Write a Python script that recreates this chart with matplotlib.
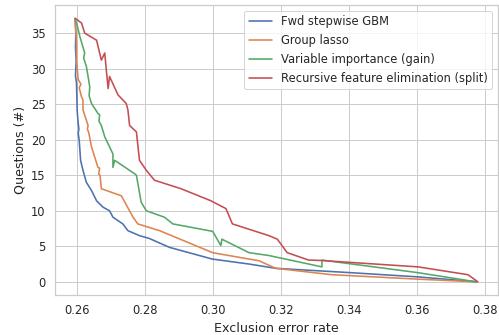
import matplotlib
matplotlib.use("Agg")
import matplotlib.pyplot as plt
import seaborn as sns

# exclusion error rate vs. number of questions kept, per selection method
fwd_x = [0.2595, 0.2597, 0.2596, 0.2598, 0.2596, 0.2599, 0.2600, 0.2601, 0.2604, 0.2606,
         0.2604, 0.2607, 0.2611, 0.2618, 0.2628, 0.2643, 0.2658, 0.2677, 0.2696, 0.2706,
         0.2735, 0.2750, 0.2784, 0.2813, 0.2872, 0.2998, 0.3106, 0.3184, 0.3400, 0.3600,
         0.3775]
fwd_y = [37, 35, 33, 31, 29, 28, 26, 24, 22.3, 21.5,
         20.9, 19.9, 17.1, 15.7, 14.0, 12.85, 11.4, 10.5, 10.0, 9.1,
         8.15, 7.2, 6.5, 6.1, 4.85, 3.2, 2.5, 1.9, 1.3, 0.7,
         0.0]

lasso_x = [0.2595, 0.2599, 0.2599, 0.2604, 0.2612, 0.2607, 0.2614, 0.2618, 0.2618, 0.2633,
           0.2631, 0.2635, 0.2643, 0.2662, 0.2667, 0.2664, 0.2668, 0.2672, 0.2731, 0.2765,
           0.2779, 0.2843, 0.2999, 0.3106, 0.3135, 0.3184, 0.3349, 0.3600, 0.3773]
lasso_y = [37, 33.6, 31.2, 28.5, 27.8, 27.3, 26, 25.6, 24.2, 22,
           21.5, 21, 19, 16.1, 16.0, 15.2, 15.0, 13.1, 12.1, 9.1,
           8.15, 7.2, 4.1, 3.2, 2.97, 1.9, 1.0, 0.38, 0.0]

gain_x = [0.2595, 0.2602, 0.2609, 0.2623, 0.2620, 0.2628, 0.2633, 0.2638, 0.2636, 0.2643,
          0.2662, 0.2667, 0.2665, 0.2672, 0.2682, 0.2706, 0.2706, 0.2711, 0.2770, 0.2775,
          0.2789, 0.2804, 0.2857, 0.2882, 0.2999, 0.3023, 0.3026, 0.3106, 0.3164, 0.3320,
          0.3320, 0.3600, 0.3773]
gain_y = [37, 35.9, 34.5, 32.2, 31.5, 30.3, 28.9, 27.4, 26.2, 25.1,
          23.7, 23.5, 22.6, 22, 20.4, 18, 16.1, 17.1, 15.2, 15,
          11.2, 10, 9.1, 8.15, 7.1, 5.1, 6.0, 4.1, 3.7, 2.1,
          3.06, 1.3, 0.0]

rfe_x = [0.2595, 0.2614, 0.2623, 0.2658, 0.2672, 0.2682, 0.2687, 0.2692, 0.2696, 0.2721,
         0.2745, 0.2750, 0.2755, 0.2775, 0.2784, 0.2804, 0.2828, 0.2906, 0.2994, 0.3038,
         0.3057, 0.3164, 0.3189, 0.3218, 0.3281, 0.3319, 0.3603, 0.3749, 0.3778]
rfe_y = [37.1, 36.4, 35, 34, 31.2, 32.2, 29.6, 27.2, 28.9, 26.3,
         25.1, 24.2, 22, 21.1, 17.1, 15.7, 14.3, 13.1, 11.4, 10.3,
         8.15, 6.5, 6.0, 4.1, 3.06, 3.0, 2.1, 1.0, 0.0]

sns.set_theme(style="whitegrid")
plt.rcParams['xtick.labelsize'] = 11.5
plt.rcParams['ytick.labelsize'] = 11.5
plt.rcParams['axes.labelsize'] = 12.6
plt.rcParams['legend.fontsize'] = 11.5
plt.rcParams['lines.linewidth'] = 1.6

fig = plt.figure(figsize=(499 / 72, 335 / 72), dpi=72)
ax = fig.add_axes([55 / 499, 40 / 335, 443 / 499, 290 / 335])

ax.plot(fwd_x, fwd_y, label='Fwd stepwise GBM')
ax.plot(lasso_x, lasso_y, label='Group lasso')
ax.plot(gain_x, gain_y, label='Variable importance (gain)')
ax.plot(rfe_x, rfe_y, label='Recursive feature elimination (split)')

ax.set_xlabel('Exclusion error rate')
ax.set_ylabel('Questions (#)')
ax.legend(loc='upper right')

fig.savefig('out.png', dpi=72)
